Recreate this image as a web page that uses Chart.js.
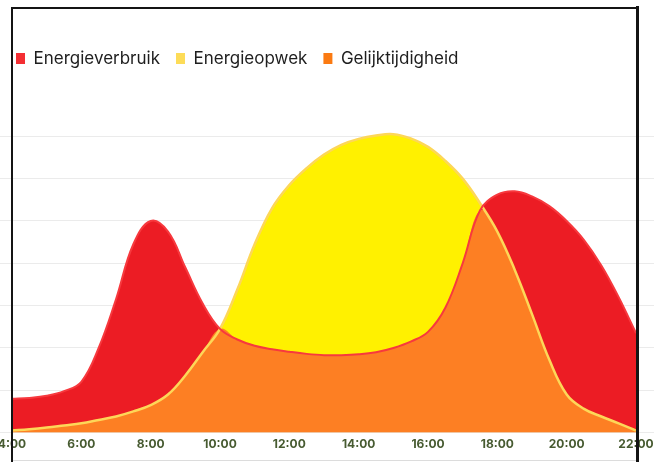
<!DOCTYPE html>
<html>
<head>
<meta charset="utf-8">
<script src="https://cdn.jsdelivr.net/npm/chart.js@4.4.1/dist/chart.umd.min.js"></script>
<style>
  html, body { margin: 0; padding: 0; background: #fff; width: 654px; height: 462px; overflow: hidden; }
  #wrap { position: absolute; left: -20px; top: 0; width: 686px; height: 462px; }
</style>
</head>
<body>
<div id="wrap"><canvas id="c"></canvas></div>
<script>
// Time axis (hours of the day, half-hour samples)
const hours = [4,4.5,5,5.5,6,6.5,7,7.5,8,8.5,9,9.5,10,10.5,11,11.5,12,12.5,13,13.5,14,14.5,15,15.5,16,16.5,17,17.5,18,18.5,19,19.5,20,20.5,21,21.5,22];
const tickLabels = ['4:00','6:00','8:00','10:00','12:00','14:00','16:00','18:00','20:00','22:00'];
const seriesNames = ['Energieverbruik','Energieopwek','Gelijktijdigheid'];

const energieverbruik = [0.80,0.82,0.87,0.98,1.20,2.00,3.15,4.45,5.00,4.75,3.90,3.05,2.45,2.20,2.05,1.97,1.91,1.86,1.83,1.83,1.85,1.90,2.00,2.15,2.38,2.95,4.00,5.25,5.62,5.70,5.58,5.35,5.00,4.55,3.95,3.20,2.35];
const energieopwek   = [0.05,0.08,0.12,0.17,0.22,0.30,0.38,0.50,0.65,0.90,1.35,1.90,2.45,3.38,4.45,5.30,5.85,6.25,6.57,6.80,6.94,7.02,7.05,6.95,6.75,6.42,6.00,5.42,4.75,3.85,2.80,1.72,0.90,0.56,0.38,0.22,0.05];
const gelijktijdigheid = [0.05,0.08,0.12,0.17,0.22,0.30,0.38,0.50,0.65,0.90,1.35,1.90,2.45,2.20,2.05,1.97,1.91,1.86,1.83,1.83,1.85,1.90,2.00,2.15,2.38,2.95,4.00,5.25,4.75,3.85,2.80,1.72,0.90,0.56,0.38,0.22,0.05];

const legendColors = ['#f42e33','#fddc58','#fb7a12'];

const toXY = arr => arr.map((v, i) => ({x: hours[i], y: v}));

// canvas is shifted 20px left of the page
const OFF = 20;

const legendHeightPlugin = {
  id: 'legendHeight',
  beforeInit(chart) {
    const fit = chart.legend.fit;
    chart.legend.fit = function() { fit.call(this); this.height = 94; };
  },
  afterLayout(chart) {
    const l = chart.legend;
    l.left += 20; l.right += 20; l.top += 34; l.bottom += 34;
  }
};

const framePlugin = {
  id: 'frame',
  afterDraw(chart) {
    const ctx = chart.ctx;
    ctx.save();
    ctx.fillStyle = '#dcdcdc';
    ctx.fillRect(13 + OFF, 460, 623, 1);
    ctx.fillStyle = '#141414';
    ctx.fillRect(11 + OFF, 7, 2, 460);      // left
    ctx.fillRect(11 + OFF, 7, 628, 2);      // top
    ctx.fillRect(636 + OFF, 6, 3, 460);     // right
    ctx.restore();
  }
};

const gridColor = c => (c.tick && c.tick.value === 8 ? 'rgba(0,0,0,0)' : '#ebebeb');

new Chart(document.getElementById('c'), {
  type: 'line',
  data: {
    datasets: [
      { label: seriesNames[0], data: toXY(energieverbruik), order: 1,
        backgroundColor: '#ec1c24', borderColor: '#f7393e', borderWidth: 2, fill: 'origin' },
      { label: seriesNames[1], data: toXY(energieopwek), order: 2,
        backgroundColor: '#fff100', borderColor: '#fdd758', borderWidth: 2.5, fill: 'origin' },
      { label: seriesNames[2], data: toXY(gelijktijdigheid), order: 0,
        backgroundColor: '#fd7f23', borderColor: 'rgba(0,0,0,0)', borderWidth: 0, fill: 'origin' }
    ]
  },
  options: {
    responsive: true,
    maintainAspectRatio: false,
    animation: false,
    layout: { padding: { top: 0, bottom: 5, left: 0, right: 0 } },
    elements: { point: { radius: 0 }, line: { tension: 0.4 } },
    plugins: {
      filler: { drawTime: 'beforeDatasetsDraw' },
      tooltip: { enabled: false },
      legend: {
        position: 'top', align: 'start',
        labels: {
          boxWidth: 9, boxHeight: 11, padding: 16,
          color: '#1e1e1e',
          font: { family: 'Inter', size: 17, weight: '400' },
          sort: (a, b) => a.datasetIndex - b.datasetIndex,
          generateLabels(chart) {
            const items = Chart.defaults.plugins.legend.labels.generateLabels(chart);
            items.forEach(it => { it.fillStyle = legendColors[it.datasetIndex]; it.strokeStyle = legendColors[it.datasetIndex]; it.lineWidth = 0; });
            return items;
          }
        }
      }
    },
    scales: {
      x: {
        type: 'linear', min: 4, max: 22,
        grid: { display: false, drawTicks: false },
        border: { display: false },
        ticks: {
          stepSize: 2, padding: 5, maxRotation: 0, autoSkip: false,
          color: '#475b31',
          font: { family: 'Inter', size: 12, weight: 'bold' },
          callback: v => tickLabels[Math.round((v - 4) / 2)]
        }
      },
      y: {
        min: 0, max: 8, position: 'left',
        border: { display: false },
        grid: { color: gridColor, tickLength: 32, lineWidth: 1 },
        ticks: { display: false, stepSize: 1 }
      },
      y2: {
        min: 0, max: 8, position: 'right',
        border: { display: false },
        grid: { drawOnChartArea: false, color: gridColor, tickLength: 30, lineWidth: 1 },
        ticks: { display: false, stepSize: 1 }
      }
    }
  },
  plugins: [legendHeightPlugin, framePlugin]
});
</script>
</body>
</html>
